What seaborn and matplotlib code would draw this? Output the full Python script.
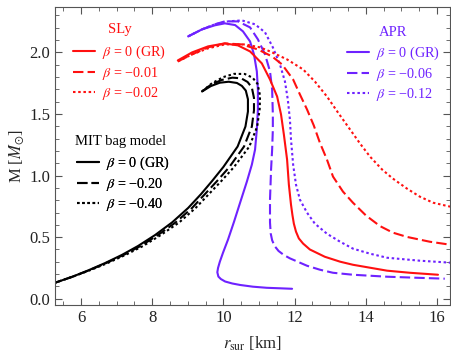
import numpy as np
import pandas as pd
import matplotlib
matplotlib.use("Agg")
import matplotlib.pyplot as plt
from matplotlib.lines import Line2D
from matplotlib.ticker import MultipleLocator, FormatStrFormatter
import seaborn as sns

# Mass-radius curves (r_sur in km, M in solar masses)
apr_gr_r = [9.01, 9.40, 9.76, 10.04, 10.33, 10.55, 10.75, 10.86, 10.94, 10.97, 10.97, 10.94,
            10.89, 10.80, 10.66, 10.47, 10.30, 10.13, 9.99, 9.90, 9.85, 9.83, 9.86, 9.93,
            10.05, 10.25, 10.47, 10.83, 11.22, 11.59, 11.93]
apr_gr_m = [2.130, 2.187, 2.220, 2.236, 2.222, 2.171, 2.089, 1.984, 1.846, 1.699, 1.537, 1.374,
            1.211, 1.089, 0.951, 0.780, 0.626, 0.480, 0.374, 0.300, 0.250, 0.215, 0.180, 0.160,
            0.140, 0.124, 0.112, 0.098, 0.089, 0.085, 0.081]

apr_b006_r = [9.01, 9.40, 9.76, 10.04, 10.41, 10.75, 10.97, 11.17, 11.31, 11.37, 11.39, 11.39,
              11.37, 11.34, 11.31, 11.31, 11.33, 11.37, 11.44, 11.55, 11.70, 11.87, 12.07,
              12.35, 12.71, 13.08, 13.64, 14.12, 14.60, 15.38, 16.22]
apr_b006_m = [2.130, 2.187, 2.228, 2.252, 2.252, 2.203, 2.106, 1.984, 1.846, 1.699, 1.496, 1.374,
              1.211, 1.049, 0.805, 0.620, 0.530, 0.475, 0.428, 0.388, 0.355, 0.328, 0.303,
              0.268, 0.236, 0.211, 0.195, 0.187, 0.179, 0.171, 0.163]

apr_b012_r = [9.01, 9.40, 9.76, 10.13, 10.52, 10.89, 11.17, 11.39, 11.59, 11.73, 11.81, 11.87,
              11.90, 11.96, 12.04, 12.15, 12.35, 12.57, 12.91, 13.28, 13.64, 14.12, 14.60,
              15.52, 16.37]
apr_b012_m = [2.130, 2.187, 2.228, 2.252, 2.260, 2.228, 2.163, 2.041, 1.902, 1.764, 1.618, 1.455,
              1.293, 1.089, 0.927, 0.805, 0.699, 0.610, 0.528, 0.463, 0.407, 0.366, 0.333,
              0.309, 0.293]

sly_gr_r = [8.72, 9.12, 9.57, 10.04, 10.41, 10.75, 11.08, 11.31, 11.51, 11.62, 11.70, 11.79,
            11.84, 11.90, 11.94, 11.98, 12.04, 12.12, 12.24, 12.43, 12.85, 13.28, 13.64, 14.12,
            14.60, 15.24, 16.03]
sly_gr_m = [1.935, 2.000, 2.049, 2.073, 2.057, 2.008, 1.911, 1.780, 1.642, 1.496, 1.333, 1.130,
            0.927, 0.764, 0.680, 0.610, 0.545, 0.490, 0.448, 0.400, 0.341, 0.301, 0.276, 0.252,
            0.228, 0.211, 0.195]

sly_b001_r = [8.72, 9.12, 9.57, 10.04, 10.52, 10.97, 11.37, 11.65, 11.96, 12.15, 12.35, 12.54,
              12.71, 12.91, 13.08, 13.36, 13.64, 14.01, 14.40, 14.76, 15.16, 15.80, 16.37]
sly_b001_m = [1.927, 1.984, 2.041, 2.073, 2.065, 2.024, 1.967, 1.902, 1.780, 1.659, 1.537, 1.407,
              1.268, 1.130, 0.992, 0.870, 0.780, 0.675, 0.590, 0.537, 0.502, 0.463, 0.439]

sly_b002_r = [8.72, 9.12, 9.57, 10.04, 10.61, 11.03, 11.31, 11.79, 12.24, 12.57, 12.91, 13.22,
              13.56, 13.84, 14.12, 14.46, 14.76, 15.16, 15.52, 15.89, 16.37]
sly_b002_m = [1.927, 1.984, 2.033, 2.065, 2.065, 2.041, 2.008, 1.943, 1.862, 1.764, 1.642, 1.512,
              1.374, 1.260, 1.154, 1.049, 0.976, 0.894, 0.829, 0.780, 0.748]

mit_gr_r = [9.40, 9.65, 9.90, 10.15, 10.38, 10.52, 10.63, 10.69, 10.69, 10.62, 10.40, 10.00,
            9.68, 9.37, 9.01, 8.56, 8.08, 7.60, 7.15, 6.67, 6.20, 5.75, 5.27]
mit_gr_m = [1.683, 1.727, 1.754, 1.762, 1.752, 1.728, 1.690, 1.620, 1.520, 1.398, 1.236, 1.070,
            0.955, 0.849, 0.737, 0.620, 0.517, 0.428, 0.356, 0.289, 0.230, 0.178, 0.130]

mit_b020_r = [9.40, 9.65, 9.95, 10.25, 10.50, 10.68, 10.80, 10.86, 10.86, 10.80, 10.58, 10.17,
              9.82, 9.48, 9.12, 8.66, 8.16, 7.67, 7.20, 6.70, 6.22, 5.75, 5.27]
mit_b020_m = [1.683, 1.738, 1.776, 1.795, 1.790, 1.760, 1.715, 1.630, 1.530, 1.398, 1.236, 1.070,
              0.955, 0.849, 0.737, 0.620, 0.517, 0.428, 0.356, 0.289, 0.230, 0.178, 0.130]

mit_b040_r = [9.40, 9.68, 10.00, 10.30, 10.60, 10.82, 10.96, 11.03, 11.02, 10.95, 10.73, 10.30,
              9.94, 9.59, 9.22, 8.76, 8.24, 7.74, 7.25, 6.74, 6.24, 5.75, 5.27]
mit_b040_m = [1.683, 1.750, 1.800, 1.826, 1.825, 1.795, 1.745, 1.650, 1.540, 1.398, 1.236, 1.070,
              0.955, 0.849, 0.737, 0.620, 0.517, 0.428, 0.356, 0.289, 0.230, 0.178, 0.130]

RED = "#FF1010"
PURPLE = "#6E22FF"
BLACK = "#000000"
LW = 1.5
SOLID = None
DASHED = (5.0, 2.0)
DOTTED = (1.2, 1.3)

curves = [
    (apr_gr_r, apr_gr_m, PURPLE, SOLID),
    (apr_b006_r, apr_b006_m, PURPLE, DASHED),
    (apr_b012_r, apr_b012_m, PURPLE, DOTTED),
    (sly_gr_r, sly_gr_m, RED, SOLID),
    (sly_b001_r, sly_b001_m, RED, DASHED),
    (sly_b002_r, sly_b002_m, RED, DOTTED),
    (mit_gr_r, mit_gr_m, BLACK, SOLID),
    (mit_b020_r, mit_b020_m, BLACK, DASHED),
    (mit_b040_r, mit_b040_m, BLACK, DOTTED),
]

sns.set_theme(style="ticks")
plt.rcParams["font.family"] = ["Liberation Serif", "DejaVu Serif"]
plt.rcParams["mathtext.fontset"] = "stix"

fig = plt.figure(figsize=(4.51, 3.60), dpi=100)
ax = fig.add_axes([0.122, 0.153, 0.876, 0.828])

for r, m, color, dash in curves:
    df = pd.DataFrame({"r": r, "M": m})
    sns.lineplot(data=df, x="r", y="M", sort=False, estimator=None, ax=ax,
                 color=color, linewidth=LW)
    line = ax.lines[-1]
    if dash is not None:
        line.set_dashes(dash)
    line.set_solid_joinstyle("round")
    line.set_dash_joinstyle("round")

ax.set_xlim(5.27, 16.37)
ax.set_ylim(-0.05, 2.37)
ax.xaxis.set_major_locator(MultipleLocator(2))
ax.xaxis.set_minor_locator(MultipleLocator(0.5))
ax.yaxis.set_major_locator(MultipleLocator(0.5))
ax.yaxis.set_minor_locator(MultipleLocator(0.1))
ax.yaxis.set_major_formatter(FormatStrFormatter("%.1f"))

frame = "#555555"
for s in ax.spines.values():
    s.set_color(frame)
    s.set_linewidth(0.8)
ax.tick_params(which="both", direction="in", top=True, right=True, color=frame,
               labelsize=12, labelcolor="#222222")
ax.tick_params(which="major", length=5, width=0.8)
ax.tick_params(which="minor", length=2.8, width=0.6)

ax.set_xlabel(r"$r_{\rm sur}$ [km]", fontsize=12, labelpad=6)
ax.set_ylabel(r"M [$M_{\odot}$]", fontsize=12, labelpad=2)


def make_legend(color, title, labels, anchor, title_xy):
    handles = [Line2D([], [], color=color, lw=LW),
               Line2D([], [], color=color, lw=LW, dashes=DASHED),
               Line2D([], [], color=color, lw=LW, dashes=DOTTED)]
    texts = [r"$\beta$ = " + lab.replace("-", "\u2212") for lab in labels]
    leg = ax.legend(handles, texts, loc="upper left", bbox_to_anchor=anchor,
                    frameon=False, fontsize=10.2, labelcolor=color,
                    handlelength=1.6, handletextpad=0.45, labelspacing=0.27,
                    borderpad=0, borderaxespad=0)
    ax.add_artist(leg)
    ax.text(title_xy[0], title_xy[1], title, transform=ax.transAxes, color=color,
            fontsize=10.5, ha="center", va="center")
    return leg


make_legend(RED, "SLy", ["0 (GR)", "-0.01", "-0.02"], (0.045, 0.8775), (0.165, 0.923))
make_legend(PURPLE, "APR", ["0 (GR)", "-0.06", "-0.12"], (0.738, 0.874), (0.856, 0.913))
make_legend(BLACK, "MIT bag model", ["0 (GR)", "-0.20", "-0.40"], (0.055, 0.505),
            (0.167, 0.547))

fig.savefig("out.png", dpi=100)
